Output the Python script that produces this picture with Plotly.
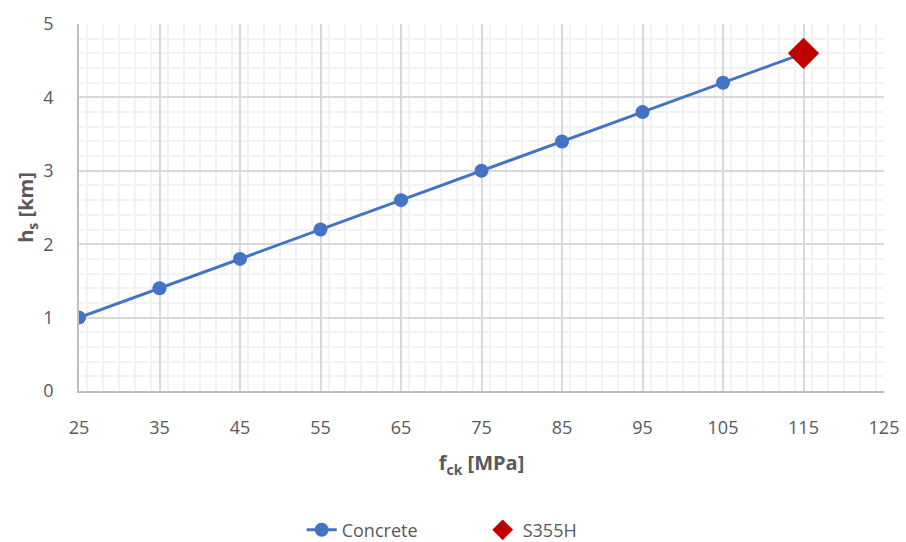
import plotly.graph_objects as go

concrete_x = [25, 35, 45, 55, 65, 75, 85, 95, 105, 115]
concrete_y = [1.0, 1.4, 1.8, 2.2, 2.6, 3.0, 3.4, 3.8, 4.2, 4.6]
steel_x = [115]
steel_y = [4.6]

fig = go.Figure()
fig.add_trace(go.Scatter(
    x=concrete_x, y=concrete_y, mode="lines+markers", name="Concrete",
    line=dict(color="#4472C4", width=3),
    marker=dict(color="#4472C4", size=14, symbol="circle"),
))
fig.add_trace(go.Scatter(
    x=steel_x, y=steel_y, mode="markers", name="S355H",
    marker=dict(color="#C00000", size=24, symbol="diamond"),
))

font_family = "Open Sans"
fig.update_layout(
    width=906, height=542,
    margin=dict(l=79, r=22, t=24, b=151, autoexpand=False),
    plot_bgcolor="white", paper_bgcolor="white",
    font=dict(family=font_family, color="#595959", size=16),
    showlegend=True,
    legend=dict(orientation="h", x=0.333, xref="container", xanchor="left",
                y=0.022, yref="container", yanchor="middle",
                font=dict(size=18, color="#595959"), entrywidth=136,
                traceorder="normal"),
    xaxis=dict(
        range=[25, 125], tick0=25, dtick=10, showgrid=True, gridcolor="#D9D9D9", gridwidth=1.5,
        minor=dict(dtick=2, showgrid=True, gridcolor="#F2F2F2", gridwidth=1.5),
        showline=True, linecolor="#BFBFBF", linewidth=1.5, zeroline=False,
        ticks="", tickfont=dict(size=18, color="#595959"), ticklabelstandoff=20,
        automargin=False,
        title=dict(text="<b>f<sub>ck</sub> [MPa]</b>", font=dict(size=20, color="#595959"), standoff=18),
        mirror=False,
    ),
    yaxis=dict(
        range=[0, 5], dtick=1, showgrid=True, gridcolor="#D9D9D9", gridwidth=1.5,
        minor=dict(dtick=0.2, showgrid=True, gridcolor="#F2F2F2", gridwidth=1.5),
        showline=True, linecolor="#BFBFBF", linewidth=1.5, zeroline=False,
        ticks="", tickfont=dict(size=18, color="#595959"), ticklabelstandoff=20,
        automargin=False,
        title=dict(text="<b>h<sub>s</sub> [km]</b>", font=dict(size=20, color="#595959"), standoff=4),
    ),
)

fig.write_html("out.html")
